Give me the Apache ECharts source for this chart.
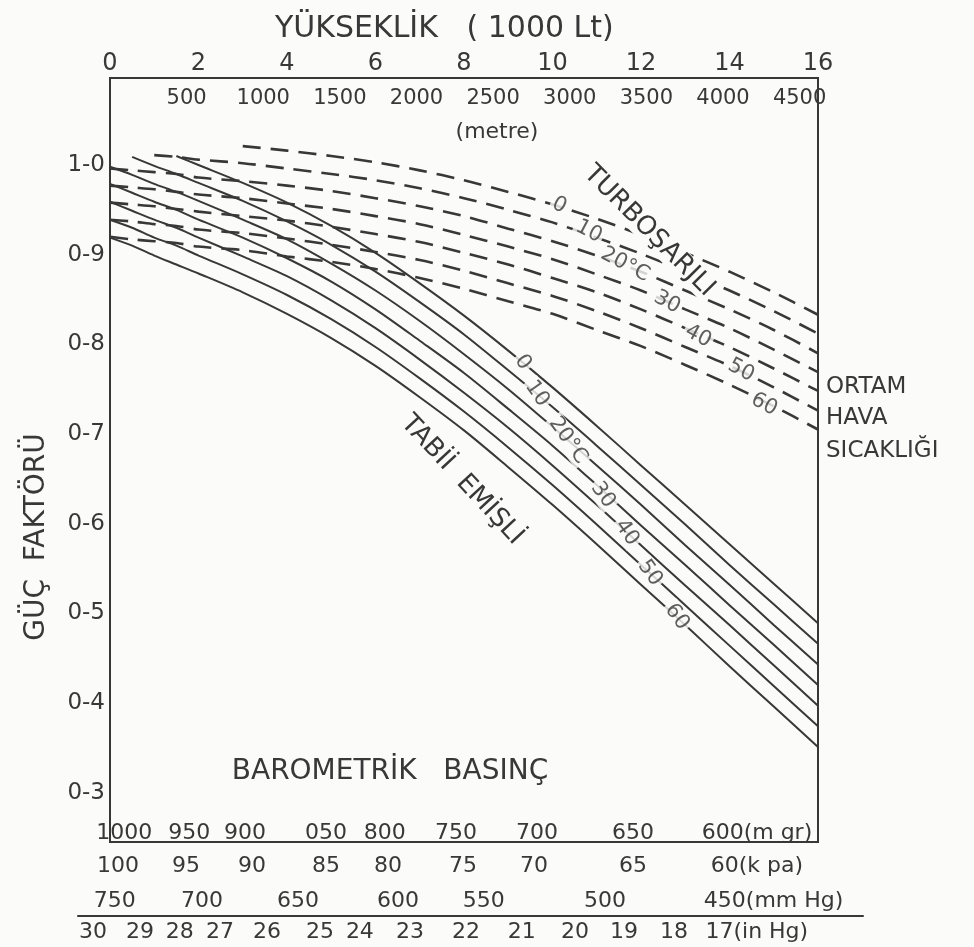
<!DOCTYPE html>
<html>
<head>
<meta charset="utf-8">
<script src="https://cdn.jsdelivr.net/npm/echarts@6/dist/echarts.min.js"></script>
<style>
html,body{margin:0;padding:0;background:#fbfbfa;}
#chart{width:974px;height:947px;}
</style>
</head>
<body>
<div id="chart"></div>
<script>
// ---------- DATA ----------
// altitude in 1000 ft
const altitudeKft = [0, 0.5, 1, 1.5, 2, 3, 4, 5, 6, 7, 8, 9, 10, 11, 12, 13, 14, 15, 16];
const tempNames = ['0', '10', '20°C', '30', '40', '50', '60'];

// Naturally aspirated (TABİİ EMİŞLİ) – solid lines
const solid0  = [null, null, null, 1.010, 1.000, 0.980, 0.958, 0.932, 0.902, 0.868, 0.832, 0.793, 0.752, 0.709, 0.665, 0.621, 0.577, 0.533, 0.489];
const solid10 = [null, 1.009, 0.999, 0.990, 0.980, 0.960, 0.937, 0.911, 0.881, 0.847, 0.811, 0.771, 0.730, 0.687, 0.643, 0.599, 0.554, 0.510, 0.466];
const solid20 = [0.998, 0.989, 0.979, 0.970, 0.960, 0.939, 0.917, 0.890, 0.860, 0.826, 0.789, 0.750, 0.708, 0.665, 0.621, 0.576, 0.532, 0.487, 0.443];
const solid30 = [0.979, 0.969, 0.959, 0.950, 0.939, 0.919, 0.896, 0.870, 0.839, 0.804, 0.768, 0.728, 0.687, 0.643, 0.598, 0.554, 0.509, 0.465, 0.420];
const solid40 = [0.959, 0.949, 0.939, 0.930, 0.919, 0.898, 0.876, 0.849, 0.818, 0.783, 0.746, 0.707, 0.665, 0.621, 0.576, 0.531, 0.487, 0.442, 0.397];
const solid50 = [0.939, 0.930, 0.919, 0.910, 0.899, 0.878, 0.855, 0.828, 0.797, 0.762, 0.725, 0.685, 0.643, 0.599, 0.554, 0.509, 0.464, 0.419, 0.374];
const solid60 = [0.919, 0.910, 0.899, 0.889, 0.879, 0.858, 0.834, 0.807, 0.776, 0.741, 0.704, 0.663, 0.621, 0.577, 0.532, 0.487, 0.441, 0.396, 0.351];

// Turbocharged (TURBOŞARJLI) – dashed lines
const turbo0  = [null, null, null, null, null, 1.021, 1.016, 1.010, 1.003, 0.994, 0.983, 0.970, 0.956, 0.940, 0.922, 0.902, 0.881, 0.858, 0.833];
const turbo10 = [null, null, 1.011, 1.009, 1.006, 1.002, 0.996, 0.990, 0.983, 0.974, 0.963, 0.950, 0.936, 0.919, 0.901, 0.881, 0.860, 0.837, 0.812];
const turbo20 = [0.996, 0.994, 0.992, 0.990, 0.986, 0.982, 0.977, 0.971, 0.963, 0.954, 0.943, 0.929, 0.915, 0.899, 0.881, 0.860, 0.839, 0.816, 0.790];
const turbo30 = [0.977, 0.975, 0.973, 0.970, 0.967, 0.963, 0.957, 0.951, 0.943, 0.934, 0.922, 0.909, 0.895, 0.878, 0.860, 0.839, 0.818, 0.794, 0.769];
const turbo40 = [0.958, 0.956, 0.954, 0.951, 0.948, 0.943, 0.938, 0.931, 0.923, 0.914, 0.902, 0.889, 0.874, 0.858, 0.839, 0.818, 0.797, 0.773, 0.748];
const turbo50 = [0.939, 0.937, 0.934, 0.932, 0.928, 0.924, 0.918, 0.911, 0.903, 0.894, 0.882, 0.868, 0.854, 0.837, 0.818, 0.797, 0.776, 0.752, 0.726];
const turbo60 = [0.920, 0.917, 0.915, 0.913, 0.909, 0.905, 0.898, 0.892, 0.884, 0.874, 0.862, 0.848, 0.834, 0.816, 0.798, 0.777, 0.755, 0.731, 0.705];

// curve labels (altitude kft, factor)
const solidLabelKft = [9.33, 9.65, 10.35, 11.14, 11.68, 12.2, 12.81];
const solidLabelVal = [0.780, 0.745, 0.693, 0.632, 0.590, 0.545, 0.496];
const turboLabelKft = [10.15, 10.82, 11.64, 12.59, 13.29, 14.26, 14.78];
const turboLabelVal = [0.955, 0.926, 0.889, 0.847, 0.809, 0.771, 0.733];

// axis tick labels
const yTicks = [0.3, 0.4, 0.5, 0.6, 0.7, 0.8, 0.9, 1.0];
const yTickText = ['0-3', '0-4', '0-5', '0-6', '0-7', '0-8', '0-9', '1-0'];
const metreTicks = [500, 1000, 1500, 2000, 2500, 3000, 3500, 4000, 4500];
const mbarPos = [0.32, 1.79, 3.05, 4.88, 6.21, 7.82, 9.65, 11.82, 14.62];
const mbarText = ['1000', '950', '900', '050', '800', '750', '700', '650', '600(m gr)'];
const kpaPos = [0.18, 1.72, 3.21, 4.88, 6.28, 7.98, 9.58, 11.82, 14.62];
const kpaText = ['100', '95', '90', '85', '80', '75', '70', '65', '60(k pa)'];
const mmhgPos = [0.11, 2.08, 4.25, 6.51, 8.45, 11.19, 15.0];
const mmhgText = ['750', '700', '650', '600', '550', '500', '450(mm Hg)'];
const inhgPos = [-0.38, 0.68, 1.58, 2.49, 3.55, 4.75, 5.65, 6.78, 8.05, 9.31, 10.51, 11.62, 12.75, 14.62];
const inhgText = ['30', '29', '28', '27', '26', '25', '24', '23', '22', '21', '20', '19', '18', '17(in Hg)'];

// ---------- CHART ----------
const INK = '#383838';
const BG = '#fbfbfa';
const FONT = "'DejaVu Sans', sans-serif";

function lookup(pos, txt) {
  return function (v) {
    let best = 0, d = Infinity;
    for (let i = 0; i < pos.length; i++) {
      const dd = Math.abs(pos[i] - v);
      if (dd < d) { d = dd; best = i; }
    }
    return txt[best];
  };
}
function pairs(vals) {
  return altitudeKft.map((x, i) => [x, vals[i]]);
}
const solidSets = [solid0, solid10, solid20, solid30, solid40, solid50, solid60];
const turboSets = [turbo0, turbo10, turbo20, turbo30, turbo40, turbo50, turbo60];

const series = [];
solidSets.forEach((s, i) => series.push({
  name: 'Tabii ' + tempNames[i], type: 'line', data: pairs(s), showSymbol: false, silent: true,
  smooth: 0.3, connectNulls: false, lineStyle: { color: INK, width: 2 }, z: 3
}));
turboSets.forEach((s, i) => series.push({
  name: 'Turbo ' + tempNames[i], type: 'line', data: pairs(s), showSymbol: false, silent: true,
  smooth: 0.3, connectNulls: false, lineStyle: { color: INK, width: 2.6, type: [18, 10] }, z: 3
}));
function labelSeries(kft, val, rot) {
  return {
    type: 'scatter', symbolSize: 1, itemStyle: { color: 'rgba(0,0,0,0)' }, silent: true, z: 10,
    data: kft.map((x, i) => ({ value: [x, val[i]], name: tempNames[i] })),
    label: {
      show: true, position: 'inside', formatter: p => p.name, rotate: rot,
      color: INK, fontSize: 21, fontFamily: FONT, backgroundColor: BG, padding: [0, 2]
    }
  };
}
series.push(labelSeries(solidLabelKft, solidLabelVal, -55));
series.push(labelSeries(turboLabelKft, turboLabelVal, -28));

const lbl = { color: INK, fontFamily: FONT, fontSize: 22 };
const noAxisDeco = { axisTick: { show: false }, splitLine: { show: false } };

const option = {
  backgroundColor: BG,
  animation: false,
  title: {
    text: 'YÜKSEKLİK   ( 1000 Lt)', left: 270, top: 9,
    textStyle: { color: INK, fontFamily: FONT, fontSize: 30, fontWeight: 'normal' }
  },
  grid: [
    { left: 110, top: 78, width: 708, height: 764, show: true, borderColor: INK, borderWidth: 2, backgroundColor: 'transparent' },
    { left: 78, top: 880, width: 785, height: 36 }
  ],
  xAxis: [
    Object.assign({ gridIndex: 0, type: 'value', position: 'top', min: 0, max: 16, interval: 2,
      axisLine: { show: true, lineStyle: { color: INK, width: 2 } },
      axisLabel: Object.assign({}, lbl, { margin: 2, fontSize: 24 }) }, noAxisDeco),
    Object.assign({ gridIndex: 0, type: 'value', position: 'top', min: 0, max: 4620,
      axisLine: { show: false },
      axisLabel: Object.assign({}, lbl, { inside: true, margin: 10, fontSize: 21, customValues: metreTicks, formatter: v => String(v) }) }, noAxisDeco),
    Object.assign({ gridIndex: 0, type: 'value', position: 'bottom', min: 0, max: 16,
      axisLine: { show: false },
      axisLabel: Object.assign({}, lbl, { inside: true, margin: -2, customValues: mbarPos, formatter: lookup(mbarPos, mbarText) }) }, noAxisDeco),
    Object.assign({ gridIndex: 0, type: 'value', position: 'bottom', min: 0, max: 16,
      axisLine: { show: false },
      axisLabel: Object.assign({}, lbl, { margin: 13, customValues: kpaPos, formatter: lookup(kpaPos, kpaText) }) }, noAxisDeco),
    Object.assign({ gridIndex: 1, type: 'value', position: 'bottom', min: -0.72, max: 17.02,
      axisLine: { show: true, lineStyle: { color: INK, width: 2 } },
      axisLabel: Object.assign({}, lbl, { margin: 5, customValues: inhgPos, formatter: lookup(inhgPos, inhgText) }) }, noAxisDeco),
    Object.assign({ gridIndex: 1, type: 'value', position: 'bottom', min: -0.72, max: 17.02,
      axisLine: { show: false },
      axisLabel: Object.assign({}, lbl, { inside: true, margin: 4, customValues: mmhgPos, formatter: lookup(mmhgPos, mmhgText) }) }, noAxisDeco)
  ],
  yAxis: [
    Object.assign({ gridIndex: 0, type: 'value', min: 0.245, max: 1.097,
      axisLine: { show: true, lineStyle: { color: INK, width: 2 } },
      axisLabel: Object.assign({}, lbl, { margin: 5, fontSize: 23, customValues: yTicks, formatter: lookup(yTicks, yTickText) }) }, noAxisDeco),
    { gridIndex: 1, type: 'value', min: 0, max: 1, show: false }
  ],
  series: series,
  graphic: [
    { type: 'text', x: 497, y: 132, style: { text: '(metre)', fill: INK, font: '22px ' + FONT, textAlign: 'center', textVerticalAlign: 'middle' } },
    { type: 'text', x: 37, y: 537, rotation: Math.PI / 2, style: { text: 'GÜÇ  FAKTÖRÜ', fill: INK, font: '28px ' + FONT, textAlign: 'center', textVerticalAlign: 'middle' } },
    { type: 'text', x: 826, y: 387, style: { text: 'ORTAM', fill: INK, font: '23px ' + FONT, textAlign: 'left', textVerticalAlign: 'middle' } },
    { type: 'text', x: 826, y: 418, style: { text: 'HAVA', fill: INK, font: '23px ' + FONT, textAlign: 'left', textVerticalAlign: 'middle' } },
    { type: 'text', x: 826, y: 451, style: { text: 'SICAKLIĞI', fill: INK, font: '23px ' + FONT, textAlign: 'left', textVerticalAlign: 'middle' } },
    { type: 'text', x: 390, y: 772, style: { text: 'BAROMETRİK   BASINÇ', fill: INK, font: '28px ' + FONT, textAlign: 'center', textVerticalAlign: 'middle' } },
    { type: 'text', x: 462, y: 480, rotation: -47 * Math.PI / 180, z: 20, style: { text: 'TABİİ  EMİŞLİ', fill: INK, font: '26px ' + FONT, textAlign: 'center', textVerticalAlign: 'middle' } },
    { type: 'text', x: 649, y: 231, rotation: -45 * Math.PI / 180, z: 20, style: { text: 'TURBOŞARJLI', fill: INK, font: '26px ' + FONT, textAlign: 'center', textVerticalAlign: 'middle', backgroundColor: BG } }
  ]
};

const chart = echarts.init(document.getElementById('chart'), null, { renderer: 'canvas' });
chart.setOption(option);
</script>
</body>
</html>
